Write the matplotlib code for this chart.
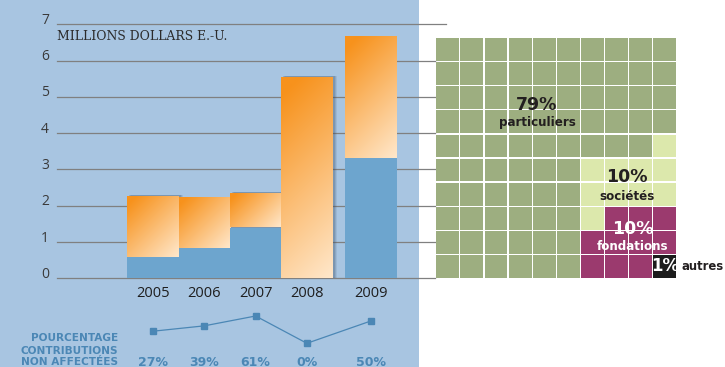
import numpy as np
import matplotlib
matplotlib.use("Agg")
import matplotlib.pyplot as plt
from matplotlib.patches import Rectangle
import matplotlib.transforms as mtrans

# ---------------- data ----------------
years = ["2005", "2006", "2007", "2008", "2009"]
unaffected = [0.59, 0.83, 1.40, 0.0, 3.31]      # millions USD (blue part)
totals = [2.26, 2.21, 2.33, 5.53, 6.65]         # millions USD (total height)
pct_unaffected = [27, 39, 61, 0, 50]
pct_labels = ["27%", "39%", "61%", "0%", "50%"]
y_ticks = [0, 1, 2, 3, 4, 5, 6, 7]

waffle_names = ["particuliers", "sociétés", "fondations", "autres"]
waffle_pct = [79, 10, 10, 1]

# ---------------- style ----------------
W, H = 725, 367
fig = plt.figure(figsize=(W / 100, H / 100), dpi=100)
fig.patch.set_facecolor("white")

panel_blue = "#a8c5e1"
bar_blue = "#6da5ce"
grid_col = "#808080"
txt_col = "#2b2b2b"
line_blue = "#4b87b5"
orange0 = np.array([247, 146, 28]) / 255
orange1 = np.array([255, 230, 200]) / 255

fig.patches.append(Rectangle((0, 0), 419 / W, 1, transform=fig.transFigure,
                             facecolor=panel_blue, edgecolor="none", zorder=-5))

# bar positions (layout)
xpos = [0, 1, 2, 3, 4.25]
shadowed = [True, True, True, True, False]
bw = 1.0
px_x = 51.3   # pixels per x unit
px_y = 36.3   # pixels per y unit

left_px, right_px = 57, 435
x0_px = 153
xl = (-(x0_px - left_px) / px_x, (right_px - x0_px) / px_x)

ax = fig.add_axes([left_px / W, (H - 278.3) / H, (right_px - left_px) / W, 254 / H])
ax.set_xlim(*xl)
ax.set_ylim(0, 7)
ax.axis("off")

for t in y_ticks:
    if t == 7:
        ax.plot([xl[0], (446 - x0_px) / px_x], [t, t], color=grid_col, lw=0.9,
                clip_on=False, zorder=1)
    else:
        ax.plot([xl[0], xl[1]], [t, t], color=grid_col, lw=0.9, clip_on=False, zorder=1)
    off = mtrans.ScaledTranslation(-8 / 100, 4 / 100, fig.dpi_scale_trans)
    ax.text(0, t, str(t), transform=mtrans.blended_transform_factory(ax.transAxes, ax.transData) + off,
            ha="right", va="center", fontsize=10, color="#3a3a3a", family="Open Sans")

ax.text(0, 6.67, "MILLIONS DOLLARS E.-U.", transform=mtrans.blended_transform_factory(ax.transAxes, ax.transData),
        ha="left", va="center", fontsize=8.9, color=txt_col, family="DejaVu Serif")

# gradient helper
def grad_image(w_px, h_px):
    ny = max(int(h_px), 2)
    nx = max(int(w_px), 2)
    u = np.linspace(0, w_px, nx)[None, :]
    v = np.linspace(0, h_px, ny)[:, None]
    tt = (u + v) / (w_px + h_px)
    tt = np.clip(tt * 1.1 - 0.08, 0, 1)
    img = orange0[None, None, :] * (1 - tt[..., None]) + orange1[None, None, :] * tt[..., None]
    return img

for i, (x, b, tot) in enumerate(zip(xpos, unaffected, totals)):
    z = 2 + 3 * i
    # soft shadow
    if shadowed[i]:
        for dx, a in [(4, 0.10), (3, 0.15), (2, 0.20)]:
            ax.add_patch(Rectangle((x - bw / 2 + dx / px_x, 0), bw, tot + 1.5 / px_y,
                                   facecolor="#3a4e66", edgecolor="none", alpha=a, zorder=z))
    # blue (unaffected)
    if b > 0:
        ax.add_patch(Rectangle((x - bw / 2, 0), bw, b, facecolor=bar_blue,
                               edgecolor="none", zorder=z + 1))
    # orange gradient (affected)
    h = tot - b
    img = grad_image(bw * px_x, h * px_y)
    ax.imshow(img, extent=(x - bw / 2, x + bw / 2, b, tot), origin="upper",
              aspect="auto", zorder=z + 2, interpolation="bilinear")
    off = mtrans.ScaledTranslation(0, -15 / 100, fig.dpi_scale_trans)
    ax.text(x, 0, years[i], transform=ax.transData + off, ha="center", va="center",
            fontsize=10.5, color="#1e1e1e", family="Open Sans")

ax.set_xlim(*xl)
ax.set_ylim(0, 7)

# ---------------- percentage line ----------------
slope = (343.3 - 316) / 61.0
lb, lt = 350, 300
ax2 = fig.add_axes([left_px / W, (H - lb) / H, (right_px - left_px) / W, (lb - lt) / H])
ax2.set_xlim(*xl)
ax2.set_ylim(-(lb - 343.3) / slope, (343.3 - lt) / slope)
ax2.axis("off")
ax2.plot(xpos, pct_unaffected, color=line_blue, lw=0.9, marker="s", markersize=5,
         markerfacecolor=line_blue, markeredgecolor=line_blue)

ty = (H - 362) / H
for x, lab in zip(xpos, pct_labels):
    xf = (left_px + (x - xl[0]) * px_x) / W
    fig.text(xf, ty, lab, ha="center", va="center", fontsize=9, fontweight="bold",
             color=line_blue, family="DejaVu Sans")

for txt, yy in [("POURCENTAGE", 337.7), ("CONTRIBUTIONS", 350.5), ("NON AFFECTÉES", 362)]:
    fig.text(118 / W, (H - yy) / H, txt, ha="right", va="center", fontsize=7.6,
             fontweight="bold", color=line_blue, family="DejaVu Sans")

# ---------------- waffle ----------------
axw = fig.add_axes([435.7 / W, (H - 278.3) / H, 241.3 / W, 240.6 / H])
axw.set_xlim(0, 10)
axw.set_ylim(0, 10)
axw.axis("off")

wcolors = ["#9dae80", "#dce8ac", "#9b3a6e", "#1c1c1c"]
# fill order: strip of columns 6-9 from bottom row upward, right to left; then remaining cells
order = []
for r in range(9, -1, -1):
    for c in range(9, 5, -1):
        order.append((r, c))
for r in range(10):
    for c in range(6):
        order.append((r, c))
cell_cat = {}
idx = 0
for cat in [3, 2, 1, 0]:
    for _ in range(waffle_pct[cat]):
        cell_cat[order[idx]] = cat
        idx += 1
gap = 0.05
for (r, c), cat in cell_cat.items():
    axw.add_patch(Rectangle((c + gap / 2, 9 - r + gap / 2), 1 - gap, 1 - gap,
                            facecolor=wcolors[cat], edgecolor="none"))

def wtext(px, py, s, size, color, weight="bold", ha="center", family="DejaVu Sans"):
    fig.text(px / W, (H - py) / H, s, ha=ha, va="center", fontsize=size,
             fontweight=weight, color=color, family=family)

wtext(537, 105, f"{waffle_pct[0]}%", 12.5, "#231f20")
wtext(537, 123, waffle_names[0], 8.6, "#231f20")
wtext(627, 177, f"{waffle_pct[1]}%", 12.5, "#231f20")
wtext(627, 196, waffle_names[1], 8.6, "#231f20")
wtext(633, 229, f"{waffle_pct[2]}%", 12.5, "white")
wtext(633, 247, waffle_names[2], 8.6, "white")
wtext(665, 266, f"{waffle_pct[3]}%", 12, "white")
wtext(681, 267, waffle_names[3], 8.4, "#231f20", ha="left")

fig.savefig("out.png", dpi=100, facecolor="white")
